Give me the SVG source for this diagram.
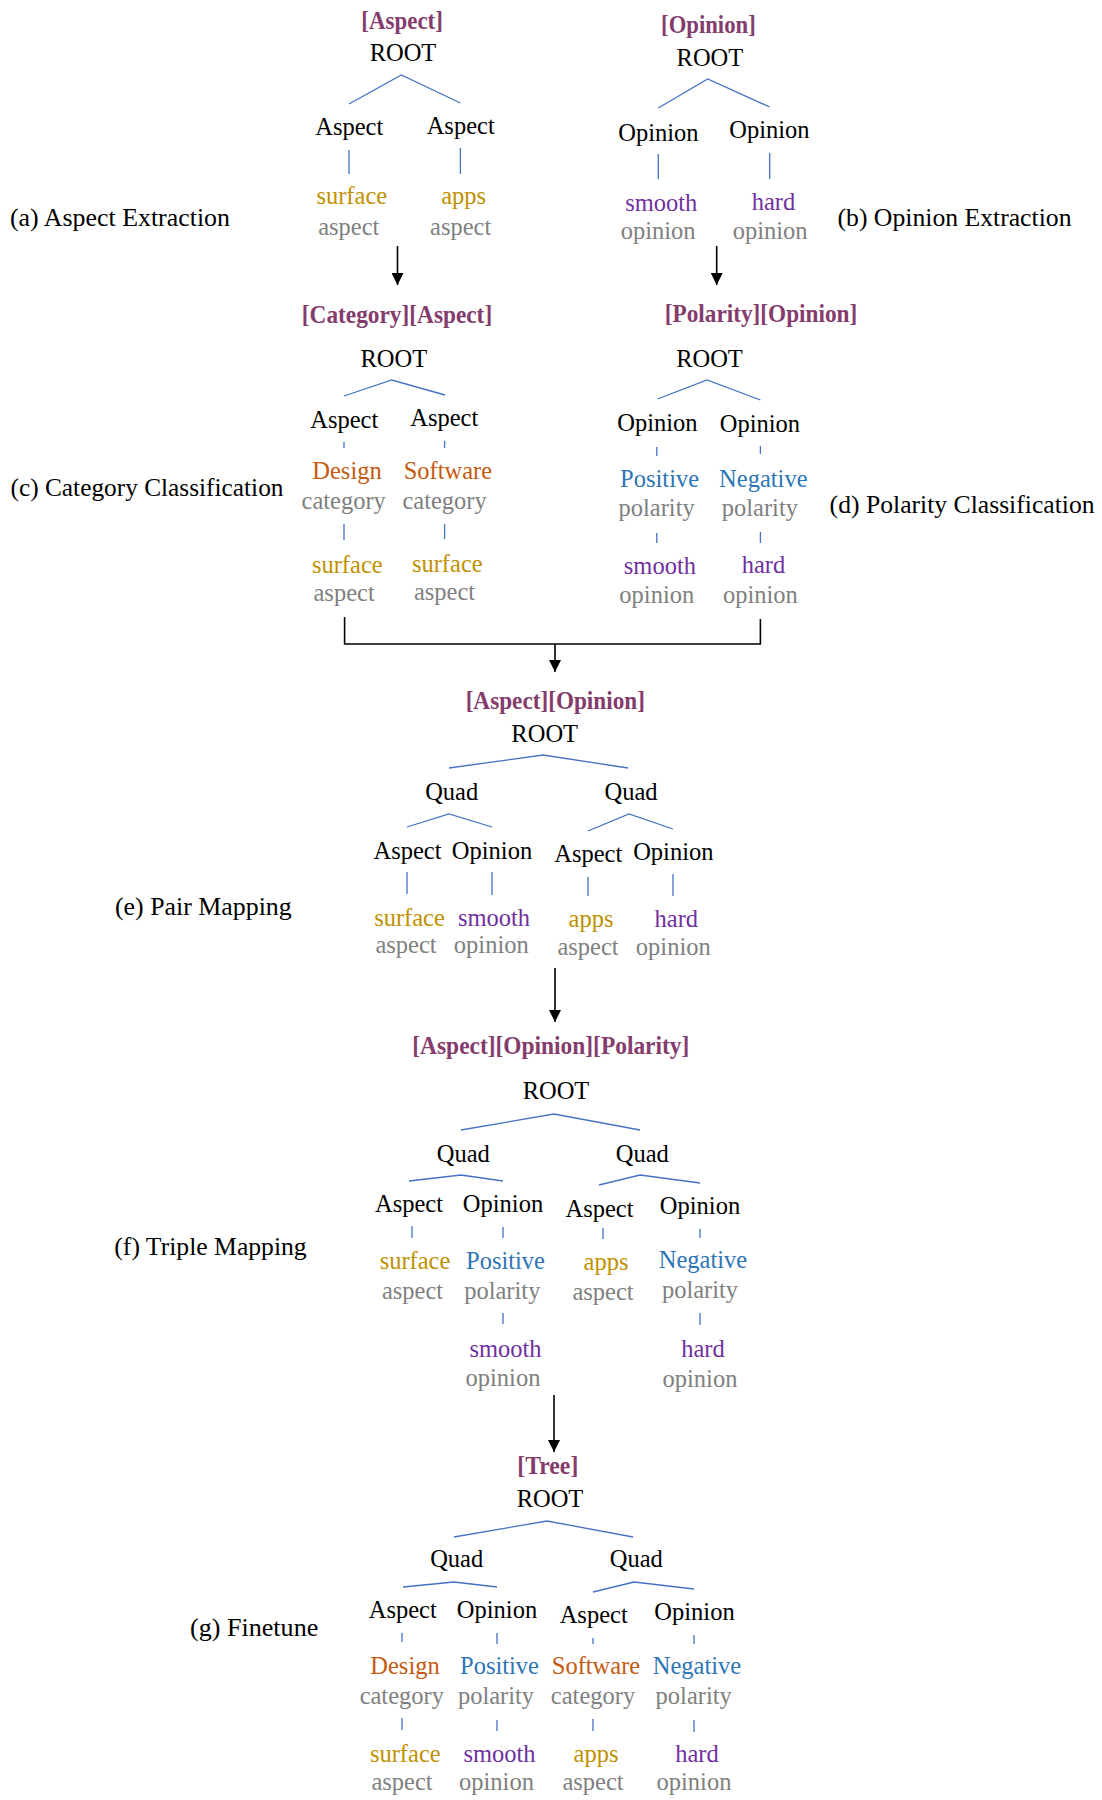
<svg xmlns="http://www.w3.org/2000/svg" width="1102" height="1800" viewBox="0 0 1102 1800">
<defs>
<marker id="ah" markerUnits="userSpaceOnUse" markerWidth="12" markerHeight="12" refX="12" refY="6" orient="auto">
<path d="M0,0 L12,6 L0,12 z" fill="#000"/>
</marker>
<style>
text{font-family:"Liberation Serif","Times New Roman",serif;text-anchor:middle}
.h{font-size:25px;font-weight:bold;fill:#843C6C}
.t{font-size:24.5px;fill:#000}
.g{font-size:24.5px;fill:#BF9000}
.o{font-size:24.5px;fill:#C55A11}
.b{font-size:24.5px;fill:#2E75B6}
.p{font-size:24.5px;fill:#7030A0}
.k{font-size:24.5px;fill:#808080}
.lab{font-size:25.7px;fill:#000;text-anchor:start}
.tl{stroke:#4472C4;stroke-width:1.3;fill:none}
.ar{stroke:#000;stroke-width:1.6;fill:none}
</style>
</defs>
<rect width="1102" height="1800" fill="#fff"/>

<g id="labels">
<text class="lab" x="10" y="226" textLength="220" lengthAdjust="spacingAndGlyphs">(a) Aspect Extraction</text>
<text class="lab" x="837.5" y="226" textLength="234" lengthAdjust="spacingAndGlyphs">(b) Opinion Extraction</text>
<text class="lab" x="10.5" y="496" textLength="273" lengthAdjust="spacingAndGlyphs">(c) Category Classification</text>
<text class="lab" x="829.6" y="513" textLength="265" lengthAdjust="spacingAndGlyphs">(d) Polarity Classification</text>
<text class="lab" x="115" y="915" textLength="176.7" lengthAdjust="spacingAndGlyphs">(e) Pair Mapping</text>
<text class="lab" x="114.3" y="1255" textLength="192.4" lengthAdjust="spacingAndGlyphs">(f) Triple Mapping</text>
<text class="lab" x="190" y="1636" textLength="128.3" lengthAdjust="spacingAndGlyphs">(g) Finetune</text>
</g>

<g id="connectors">
<!-- tree edges (a) -->
<path class="tl" d="M349,104 L401.4,75 L460.4,103 M349,150 V174 M460.4,148 V174"/>
<!-- (b) -->
<path class="tl" d="M658.3,108 L707.7,79 L769.7,107 M658.3,154 V179 M769.7,153 V179"/>
<!-- (c) -->
<path class="tl" d="M344,396 L391.8,380 L445,395 M344,442 V448 M444.6,441 V448 M344,524 V540 M444.6,524 V539"/>
<!-- (d) -->
<path class="tl" d="M657.6,399 L707,380 L760.4,400 M656.8,447 V456 M760.4,446 V454 M656.8,533 V543 M760.4,532 V543"/>
<!-- (e) -->
<path class="tl" d="M449,768 L543,755 L628,768 M407,827 L449,814 L492,827 M588,831 L629,814 L673,829 M407,872 V894 M492,872 V895 M588,877 V896 M673,874 V896"/>
<!-- (f) -->
<path class="tl" d="M461,1130 L554,1114 L640,1130 M409,1181 L461,1175 L503,1181 M599,1185 L640,1175 L700,1183 M412,1226 V1238 M503,1227 V1238 M603,1228 V1239 M700,1229 V1238 M503,1313 V1324 M700,1313 V1325"/>
<!-- (g) -->
<path class="tl" d="M454,1537 L547,1521 L633,1537 M403,1587 L454,1582 L497,1587 M593,1592 L634,1582 L694,1589 M402,1633 V1642 M497,1633 V1644 M593,1638 V1644 M694,1635 V1644 M402,1718 V1730 M497,1720 V1731 M593,1719 V1731 M694,1720 V1732"/>
<!-- flow arrows -->
<path class="ar" d="M397.5,246 V285" marker-end="url(#ah)"/>
<path class="ar" d="M716.7,246 V285" marker-end="url(#ah)"/>
<path class="ar" d="M344.6,617 V644 H760.4 V619"/>
<path class="ar" d="M555,644 V672" marker-end="url(#ah)"/>
<path class="ar" d="M555,968 V1022" marker-end="url(#ah)"/>
<path class="ar" d="M554,1395 V1452" marker-end="url(#ah)"/>
</g>

<!-- (a) Aspect Extraction -->
<g id="a-header"><text class="h" x="402.1" y="29" textLength="81.5" lengthAdjust="spacingAndGlyphs">[Aspect]</text></g>
<g id="a-root"><text class="t" x="403" y="61">ROOT</text></g>
<g id="a-aspect1"><text class="t" x="349.3" y="135">Aspect</text></g>
<g id="a-aspect2"><text class="t" x="460.7" y="134">Aspect</text></g>
<g id="a-surface"><text class="g" x="351.8" y="204">surface</text><text class="k" x="348.8" y="235">aspect</text></g>
<g id="a-apps"><text class="g" x="463.7" y="204">apps</text><text class="k" x="460.7" y="235">aspect</text></g>

<!-- (b) Opinion Extraction -->
<g id="b-header"><text class="h" x="708.4" y="33" textLength="94.6" lengthAdjust="spacingAndGlyphs">[Opinion]</text></g>
<g id="b-root"><text class="t" x="709.9" y="66">ROOT</text></g>
<g id="b-opinion1"><text class="t" x="658.4" y="140.5">Opinion</text></g>
<g id="b-opinion2"><text class="t" x="769.4" y="138">Opinion</text></g>
<g id="b-smooth"><text class="p" x="661.3" y="210.5">smooth</text><text class="k" x="658.2" y="239">opinion</text></g>
<g id="b-hard"><text class="p" x="773.4" y="210">hard</text><text class="k" x="770.1" y="239">opinion</text></g>

<!-- (c) Category Classification -->
<g id="c-header"><text class="h" x="397" y="323" textLength="190.3" lengthAdjust="spacingAndGlyphs">[Category][Aspect]</text></g>
<g id="c-root"><text class="t" x="393.8" y="367">ROOT</text></g>
<g id="c-aspect1"><text class="t" x="344.3" y="427.5">Aspect</text></g>
<g id="c-aspect2"><text class="t" x="444.3" y="425.5">Aspect</text></g>
<g id="c-design"><text class="o" x="347" y="479">Design</text><text class="k" x="343.7" y="509">category</text></g>
<g id="c-software"><text class="o" x="447.9" y="479">Software</text><text class="k" x="444.6" y="509">category</text></g>
<g id="c-surface1"><text class="g" x="347.3" y="572.5">surface</text><text class="k" x="344.1" y="601">aspect</text></g>
<g id="c-surface2"><text class="g" x="447.3" y="572">surface</text><text class="k" x="444.5" y="600">aspect</text></g>

<!-- (d) Polarity Classification -->
<g id="d-header"><text class="h" x="761" y="321.5" textLength="192.5" lengthAdjust="spacingAndGlyphs">[Polarity][Opinion]</text></g>
<g id="d-root"><text class="t" x="709.5" y="367">ROOT</text></g>
<g id="d-opinion1"><text class="t" x="657.4" y="430.5">Opinion</text></g>
<g id="d-opinion2"><text class="t" x="759.9" y="432">Opinion</text></g>
<g id="d-positive"><text class="b" x="659.6" y="487">Positive</text><text class="k" x="656.6" y="516">polarity</text></g>
<g id="d-negative"><text class="b" x="763.3" y="486.5">Negative</text><text class="k" x="759.9" y="516">polarity</text></g>
<g id="d-smooth"><text class="p" x="659.9" y="574">smooth</text><text class="k" x="656.8" y="603">opinion</text></g>
<g id="d-hard"><text class="p" x="763.5" y="573.3">hard</text><text class="k" x="760.4" y="602.7">opinion</text></g>

<!-- (e) Pair Mapping -->
<g id="e-header"><text class="h" x="555.3" y="709.3" textLength="179.3" lengthAdjust="spacingAndGlyphs">[Aspect][Opinion]</text></g>
<g id="e-root"><text class="t" x="544.7" y="741.7">ROOT</text></g>
<g id="e-quad1"><text class="t" x="451.7" y="800">Quad</text></g>
<g id="e-quad2"><text class="t" x="631" y="800">Quad</text></g>
<g id="e-aspect1"><text class="t" x="407.5" y="859">Aspect</text></g>
<g id="e-opinion1"><text class="t" x="492" y="859">Opinion</text></g>
<g id="e-aspect2"><text class="t" x="588.3" y="861.7">Aspect</text></g>
<g id="e-opinion2"><text class="t" x="673.3" y="860">Opinion</text></g>
<g id="e-surface"><text class="g" x="409.5" y="926">surface</text><text class="k" x="406" y="953">aspect</text></g>
<g id="e-smooth"><text class="p" x="494" y="926">smooth</text><text class="k" x="491.3" y="953">opinion</text></g>
<g id="e-apps"><text class="g" x="591" y="926.7">apps</text><text class="k" x="588" y="955">aspect</text></g>
<g id="e-hard"><text class="p" x="676.3" y="927.3">hard</text><text class="k" x="673.3" y="955">opinion</text></g>

<!-- (f) Triple Mapping -->
<g id="f-header"><text class="h" x="550.8" y="1054" textLength="277" lengthAdjust="spacingAndGlyphs">[Aspect][Opinion][Polarity]</text></g>
<g id="f-root"><text class="t" x="556" y="1099">ROOT</text></g>
<g id="f-quad1"><text class="t" x="463.3" y="1161.7">Quad</text></g>
<g id="f-quad2"><text class="t" x="642.3" y="1161.7">Quad</text></g>
<g id="f-aspect1"><text class="t" x="409" y="1211.7">Aspect</text></g>
<g id="f-opinion1"><text class="t" x="503" y="1211.7">Opinion</text></g>
<g id="f-aspect2"><text class="t" x="599.5" y="1216.7">Aspect</text></g>
<g id="f-opinion2"><text class="t" x="700" y="1214.3">Opinion</text></g>
<g id="f-surface"><text class="g" x="415" y="1269.3">surface</text><text class="k" x="412.5" y="1299.3">aspect</text></g>
<g id="f-positive"><text class="b" x="505.5" y="1269.3">Positive</text><text class="k" x="502.3" y="1299">polarity</text></g>
<g id="f-smooth"><text class="p" x="505.5" y="1356.7">smooth</text><text class="k" x="503" y="1385.7">opinion</text></g>
<g id="f-apps"><text class="g" x="606" y="1270">apps</text><text class="k" x="603" y="1300">aspect</text></g>
<g id="f-negative"><text class="b" x="703" y="1268.3">Negative</text><text class="k" x="700" y="1298">polarity</text></g>
<g id="f-hard"><text class="p" x="703" y="1357.3">hard</text><text class="k" x="700" y="1386.7">opinion</text></g>

<!-- (g) Finetune -->
<g id="g-header"><text class="h" x="547.8" y="1474" textLength="61" lengthAdjust="spacingAndGlyphs">[Tree]</text></g>
<g id="g-root"><text class="t" x="550" y="1506.7">ROOT</text></g>
<g id="g-quad1"><text class="t" x="456.7" y="1567.3">Quad</text></g>
<g id="g-quad2"><text class="t" x="636.3" y="1567.3">Quad</text></g>
<g id="g-aspect1"><text class="t" x="402.8" y="1618.3">Aspect</text></g>
<g id="g-opinion1"><text class="t" x="497" y="1618.3">Opinion</text></g>
<g id="g-aspect2"><text class="t" x="593.7" y="1622.7">Aspect</text></g>
<g id="g-opinion2"><text class="t" x="694.5" y="1620">Opinion</text></g>
<g id="g-design"><text class="o" x="405" y="1674">Design</text><text class="k" x="401.8" y="1704">category</text></g>
<g id="g-positive"><text class="b" x="499.5" y="1674">Positive</text><text class="k" x="496" y="1704">polarity</text></g>
<g id="g-software"><text class="o" x="596" y="1674">Software</text><text class="k" x="593" y="1704">category</text></g>
<g id="g-negative"><text class="b" x="697" y="1674">Negative</text><text class="k" x="693.7" y="1704">polarity</text></g>
<g id="g-surface"><text class="g" x="405.3" y="1761.7">surface</text><text class="k" x="402" y="1790">aspect</text></g>
<g id="g-smooth"><text class="p" x="499.5" y="1761.7">smooth</text><text class="k" x="496.5" y="1790">opinion</text></g>
<g id="g-apps"><text class="g" x="596" y="1762">apps</text><text class="k" x="593" y="1790">aspect</text></g>
<g id="g-hard"><text class="p" x="697" y="1762">hard</text><text class="k" x="694" y="1790">opinion</text></g>
</svg>
